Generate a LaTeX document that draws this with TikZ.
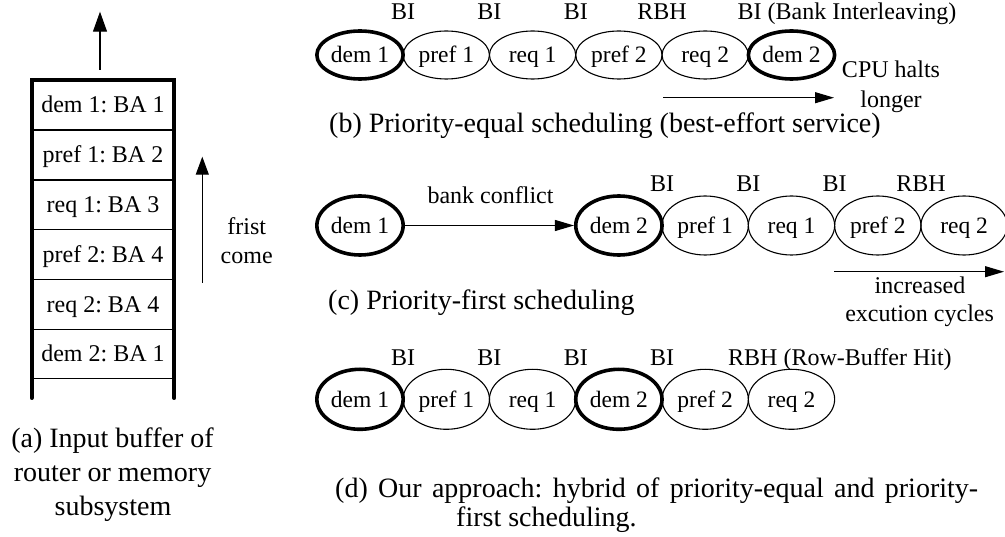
\documentclass[tikz,border=0pt]{standalone}
\usepackage{fontspec}
\setmainfont{Liberation Serif}
\usetikzlibrary{shapes.geometric,arrows.meta}
\frenchspacing
\begin{document}
\begin{tikzpicture}[x=1pt,y=-1pt,
  txt/.style={font=\fontsize{24}{27}\selectfont, inner sep=0pt},
  captxt/.style={font=\fontsize{28}{31}\selectfont, inner sep=0pt},
  reqbox/.style={ellipse, draw, line width=1.1pt, minimum width=86.3pt,
                 inner sep=0pt, text height=15.6pt, text depth=0pt,
                 font=\fontsize{23.5}{26}\selectfont},
  dembox/.style={reqbox, line width=3.6pt},
  wall/.style={line width=4pt},
  thinline/.style={line width=1.1pt},
  arr/.style={line width=1.1pt, -{Triangle[length=19pt,width=11pt]}},
  bigarr/.style={line width=1.1pt, -{Triangle[length=20pt,width=14pt]}},
]
\useasboundingbox (0,0) rectangle (1005,537);

% ---------- (a) input buffer ----------
\draw[wall, line cap=round, line join=miter] (31.7,398) -- (31.7,80) -- (174.3,80) -- (174.3,398);
\foreach \yy in {130,180,229.5,279.3,329.3,378.7}
  \draw[thinline] (31.7,\yy) -- (174.3,\yy);
\foreach \nm/\yy/\tx in {r1/113/{dem 1: BA 1}, r2/163/{pref 1: BA 2}, r3/212.7/{req 1: BA 3},
                         r4/262.3/{pref 2: BA 4}, r5/312.3/{req 2: BA 4}, r6/362/{dem 2: BA 1}}
  \node[txt, anchor=base] (\nm) at (103,\yy) {\tx};

\coordinate (outTail) at (100,70);
\coordinate (outTip) at (100,11.7);
\draw[bigarr] (outTail) -- (outTip);

\coordinate (fcTail) at (202.3,283);
\coordinate (fcTip) at (202.3,156.7);
\draw[line width=1.1pt, -{Triangle[length=18pt,width=13pt]}] (fcTail) -- (fcTip);
\node[txt, anchor=base] (frist) at (246.7,235) {frist};
\node[txt, anchor=base] (come) at (246.7,264) {come};

\node[captxt, anchor=base] (capa1) at (112.5,448) {(a) Input buffer of};
\node[captxt, anchor=base] (capa2) at (112.5,481.5) {router or memory};
\node[captxt, anchor=base] (capa3) at (113,515) {subsystem};

% ---------- (b) priority-equal scheduling ----------
\begin{scope}[every node/.append style={minimum height=48pt}]
\node[dembox] (bdem1)  at (360,55)   {dem 1};
\node[reqbox] (bpref1) at (446.3,55) {pref 1};
\node[reqbox] (breq1)  at (532.6,55) {req 1};
\node[reqbox] (bpref2) at (618.9,55) {pref 2};
\node[reqbox] (breq2)  at (705.2,55) {req 2};
\node[dembox] (bdem2)  at (791.5,55) {dem 2};
\end{scope}
\node[txt, anchor=base] (bl1) at (403.15,20) {BI};
\node[txt, anchor=base] (bl2) at (489.45,20) {BI};
\node[txt, anchor=base] (bl3) at (575.75,20) {BI};
\node[txt, anchor=base] (bl4) at (662.05,20) {RBH};
\node[txt, anchor=base west] (bl5) at (737.5,20) {BI (Bank Interleaving)};

\coordinate (cpuTail) at (663,97.7);
\coordinate (cpuTip) at (834,97.7);
\draw[arr] (cpuTail) -- (cpuTip);
\node[txt, anchor=base] (cpu1) at (891,78) {CPU halts};
\node[txt, anchor=base] (cpu2) at (891,108) {longer};
\node[captxt, anchor=base west] (capb) at (329,133) {(b) Priority-equal scheduling (best-effort service)};

% ---------- (c) priority-first scheduling ----------
\begin{scope}[every node/.append style={minimum height=59pt}]
\node[dembox] (cdem1)  at (360,225.5)   {dem 1};
\node[dembox] (cdem2)  at (618.9,225.5) {dem 2};
\node[reqbox] (cpref1) at (705.2,225.5) {pref 1};
\node[reqbox] (creq1)  at (791.5,225.5) {req 1};
\node[reqbox] (cpref2) at (877.8,225.5) {pref 2};
\node[reqbox] (creq2)  at (964.1,225.5) {req 2};
\end{scope}
\draw[arr] (cdem1) -- (cdem2);
\node[txt, anchor=base] (conflict) at (490.5,204) {bank conflict};
\node[txt, anchor=base] (cl1) at (662.05,192) {BI};
\node[txt, anchor=base] (cl2) at (748.35,192) {BI};
\node[txt, anchor=base] (cl3) at (834.65,192) {BI};
\node[txt, anchor=base] (cl4) at (920.95,192) {RBH};

\coordinate (incTail) at (834,271.7);
\coordinate (incTip) at (1004,271.7);
\draw[arr] (incTail) -- (incTip);
\node[txt, anchor=base] (inc1) at (920,293.3) {increased};
\node[txt, anchor=base] (inc2) at (919.6,321.7) {excution cycles};
\node[captxt, anchor=base west] (capc) at (328,309.3) {(c) Priority-first scheduling};

% ---------- (d) hybrid scheduling ----------
\begin{scope}[every node/.append style={minimum height=60pt}]
\node[dembox] (ddem1)  at (360,399.3)   {dem 1};
\node[reqbox] (dpref1) at (446.3,399.3) {pref 1};
\node[reqbox] (dreq1)  at (532.6,399.3) {req 1};
\node[dembox] (ddem2)  at (618.9,399.3) {dem 2};
\node[reqbox] (dpref2) at (705.2,399.3) {pref 2};
\node[reqbox] (dreq2)  at (791.5,399.3) {req 2};
\end{scope}
\node[txt, anchor=base] (dl1) at (403.15,366) {BI};
\node[txt, anchor=base] (dl2) at (489.45,366) {BI};
\node[txt, anchor=base] (dl3) at (575.75,366) {BI};
\node[txt, anchor=base] (dl4) at (662.05,366) {BI};
\node[txt, anchor=base west] (dl5) at (728,366) {RBH (Row-Buffer Hit)};

\node[captxt, anchor=base west] (capd1) at (335,497.5)
  {\makebox[643pt][s]{(d) Our approach: hybrid of priority-equal and priority-}};
\node[captxt, anchor=base west] (capd2) at (456,526) {first scheduling.};
\end{tikzpicture}
\end{document}
